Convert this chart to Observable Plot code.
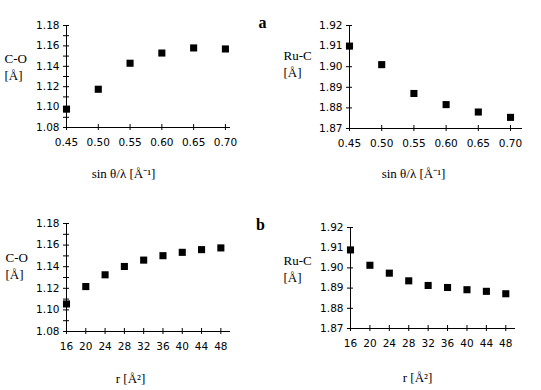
<!DOCTYPE html>
<html>
<head>
<meta charset="utf-8">
<script src="https://cdn.jsdelivr.net/npm/d3@7"></script>
<script src="https://cdn.jsdelivr.net/npm/@observablehq/plot@0.6"></script>
<style>
  html, body { margin: 0; padding: 0; background: #fff; }
  #wrap { position: relative; width: 541px; height: 390px; background: #fff; overflow: hidden; }
</style>
</head>
<body>
<div id="wrap"></div>
<script>
// ---- data ----
const sinThetaLambda = [0.45, 0.50, 0.55, 0.60, 0.65, 0.70];
const coA  = [1.098, 1.1175, 1.143, 1.153, 1.158, 1.157];
const rucA = [1.910, 1.901, 1.887, 1.8816, 1.878, 1.8754];

const rValues = [16, 20, 24, 28, 32, 36, 40, 44, 48];
const coB  = [1.1055, 1.1216, 1.1325, 1.1402, 1.1461, 1.1502, 1.1533, 1.1558, 1.1574];
const rucB = [1.9089, 1.9013, 1.8974, 1.8936, 1.8913, 1.8903, 1.8892, 1.8884, 1.8872];

const xTicksSin = [0.45, 0.50, 0.55, 0.60, 0.65, 0.70];
const xTicksR   = [16, 20, 24, 28, 32, 36, 40, 44, 48];
const yTicksCO  = [1.08, 1.10, 1.12, 1.14, 1.16, 1.18];
const yMinorCO  = [1.09, 1.11, 1.13, 1.15, 1.17];
const yTicksRuC = [1.87, 1.88, 1.89, 1.90, 1.91, 1.92];

const labelSin = "sin \u03B8/\u03BB [\u00C5\u207B\u00B9]";
const labelR = "r [\u00C5\u00B2]";
const labelCO = ["C-O", "[\u00C5]"];
const labelRuC = ["Ru-C", "[\u00C5]"];

const SERIF = "'Liberation Serif', 'Times New Roman', serif";
const SANS = "'DejaVu Sans', sans-serif";

function panel(o) {
  const W = o.width, H = 195;
  const [mt, mr, mb, ml] = o.margins;
  const data = o.xs.map((x, i) => ({x, y: o.ys[i]}));
  const x0 = o.xDomain[0], y0 = o.yDomain[0];
  const marks = [
    // axis lines
    Plot.ruleX([x0], {x: d => d, y1: o.yDomain[0], y2: o.yDomain[1], stroke: "black"}),
    Plot.ruleY([y0], {y: d => d, x1: o.xDomain[0], x2: o.xDomain[1], stroke: "black"}),
    // x ticks crossing the axis
    Plot.ruleX(o.xTicks, {x: d => d, y1: y0, y2: y0, insetTop: -3, insetBottom: -3, stroke: "black"}),
    // y ticks crossing the axis
    Plot.ruleY(o.yTicks.concat(o.yMinor || []), {y: d => d, x1: x0, x2: x0, insetLeft: -3, insetRight: -3, stroke: "black"}),
    // tick labels
    Plot.text(o.xTicks, {x: d => d, frameAnchor: "bottom", dy: 15, lineAnchor: "middle",
      text: d => o.fmtX(d), fontFamily: SANS, fontSize: 10.5, fill: "black"}),
    Plot.text(o.yTicks, {y: d => d, frameAnchor: "left", dx: -7, textAnchor: "end", lineAnchor: "middle",
      text: d => d.toFixed(2), fontFamily: SANS, fontSize: 10.5, fill: "black"}),
    // data
    Plot.dot(data, {x: "x", y: "y", symbol: "square", r: 4, fill: "black"}),
  ];
  // free text placed in panel-local pixel coords, relative to the frame's top-left
  const put = (txt, px, py, extra) => Plot.text([txt], Object.assign({
    frameAnchor: "top-left", dx: px - ml, dy: py - mt, lineAnchor: "middle",
    fontFamily: SERIF, fontSize: 13, fill: "black"}, extra));
  marks.push(put(o.yLabel[0], o.yLabelX, o.yLabelY, {textAnchor: "start"}));
  marks.push(put(o.yLabel[1], o.yLabelX, o.yLabelY + 17, {textAnchor: "start"}));
  marks.push(put(o.xLabel, o.xLabelX, o.xLabelY, {textAnchor: "middle"}));
  if (o.letter) marks.push(put(o.letter, o.letterX, o.letterY, {textAnchor: "middle", fontWeight: "bold", fontSize: 16}));

  return Plot.plot({
    width: W, height: H,
    marginTop: mt, marginRight: mr, marginBottom: mb, marginLeft: ml,
    x: {domain: o.xDomain, axis: null},
    y: {domain: o.yDomain, axis: null},
    style: {position: "absolute", left: o.left + "px", top: o.top + "px", background: "transparent", overflow: "visible"},
    marks
  });
}

const wrap = document.getElementById("wrap");

wrap.appendChild(panel({
  left: 0, top: 0, width: 270, margins: [25, 40, 68, 66],
  xs: sinThetaLambda, ys: coA, xDomain: [0.45, 0.708], yDomain: [1.08, 1.18],
  xTicks: xTicksSin, yTicks: yTicksCO, yMinor: yMinorCO, fmtX: d => d.toFixed(2),
  yLabel: labelCO, yLabelX: 4, yLabelY: 58,
  xLabel: labelSin, xLabelX: 123, xLabelY: 173,
  letter: "a", letterX: 262, letterY: 22
}));

wrap.appendChild(panel({
  left: 270, top: 0, width: 271, margins: [25, 19, 67, 79],
  xs: sinThetaLambda, ys: rucA, xDomain: [0.45, 0.7186], yDomain: [1.87, 1.92],
  xTicks: xTicksSin, yTicks: yTicksRuC, fmtX: d => d.toFixed(2),
  yLabel: labelRuC, yLabelX: 13, yLabelY: 55,
  xLabel: labelSin, xLabelX: 143, xLabelY: 173
}));

wrap.appendChild(panel({
  left: 0, top: 195, width: 270, margins: [28, 40, 59, 66],
  xs: rValues, ys: coB, xDomain: [16, 50], yDomain: [1.08, 1.18],
  xTicks: xTicksR, yTicks: yTicksCO, yMinor: yMinorCO, fmtX: d => String(d),
  yLabel: labelCO, yLabelX: 5, yLabelY: 62,
  xLabel: labelR, xLabelX: 130, xLabelY: 183,
  letter: "b", letterX: 260, letterY: 29
}));

wrap.appendChild(panel({
  left: 270, top: 195, width: 271, margins: [32, 26, 62, 80],
  xs: rValues, ys: rucB, xDomain: [16, 50], yDomain: [1.87, 1.92],
  xTicks: xTicksR, yTicks: yTicksRuC, fmtX: d => String(d),
  yLabel: labelRuC, yLabelX: 13, yLabelY: 65,
  xLabel: labelR, xLabelX: 147, xLabelY: 182
}));
</script>
</body>
</html>
